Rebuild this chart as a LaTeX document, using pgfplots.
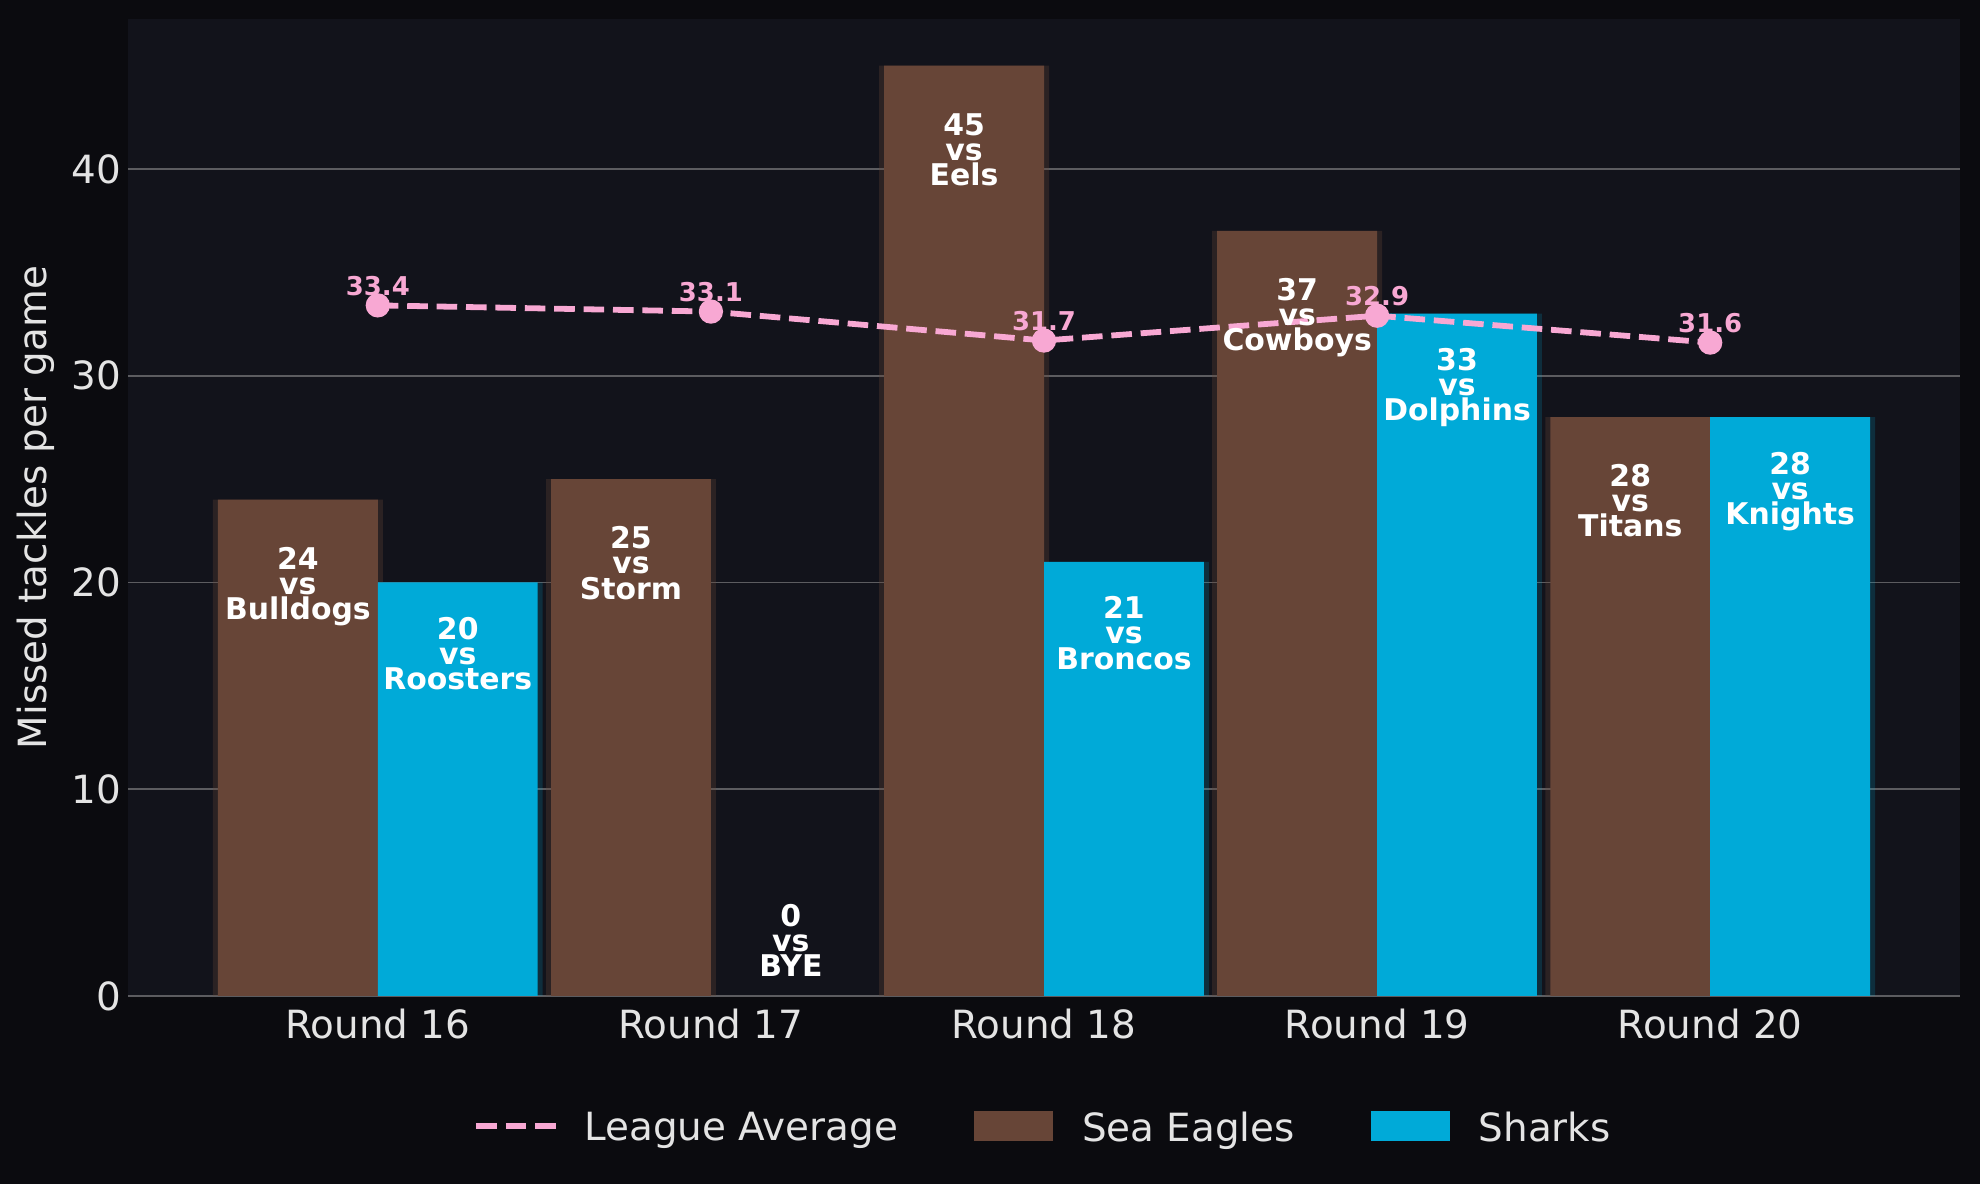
\documentclass[border=0pt]{standalone}
\usepackage{fontspec}
\setmainfont{DejaVu Sans}
\usepackage{pgfplots}
\pgfplotsset{compat=1.18}
\definecolor{figbg}{HTML}{0B0B0F}
\definecolor{axbg}{HTML}{12131B}
\definecolor{gridc}{HTML}{5C5C60}
\definecolor{brownc}{HTML}{674537}
\definecolor{cyanc}{HTML}{00AAD8}
\definecolor{pinkc}{HTML}{F8A8D3}
\definecolor{tickc}{HTML}{E4E4E4}
\tikzset{barlbl/.style={font=\bfseries\fontsize{15}{12.6}\selectfont, text=white, align=center, inner sep=0pt, text depth=0pt, anchor=center}}
\pgfplotsset{
  pinkleg/.style={legend image code/.code={\draw[pinkc, line width=2.9bp, dash pattern=on 10.3bp off 4.4bp] (0bp,1bp) -- (39.7bp,1bp); \path[draw=none,fill=none] (0,0) -- (52bp,0);}},
  brownleg/.style={legend image code/.code={\fill[brownc, draw=none] (0bp,-6.5bp) rectangle (39.5bp,8.5bp); \path[draw=none,fill=none] (0,0) -- (52bp,0);}},
  cyanleg/.style={legend image code/.code={\fill[cyanc, draw=none] (0bp,-6.5bp) rectangle (39.5bp,8.5bp); \path[draw=none,fill=none] (0,0) -- (52bp,0);}},
}
\pgfplotstableread{
x sea sharks avg
0 24 20 33.4
1 25 0 33.1
2 45 21 31.7
3 37 33 32.9
4 28 28 31.6
}\datatable
\begin{document}
\begin{tikzpicture}
\fill[figbg] (0,0) rectangle (990bp,592bp);
\begin{axis}[
  at={(64bp,94bp)}, anchor=south west,
  width=916bp, height=488.5bp, scale only axis,
  xmin=-0.75, xmax=4.75, ymin=0, ymax=47.25,
  axis background/.style={fill=axbg},
  axis line style={draw=none},
  xtick={0,1,2,3,4},
  xticklabels={Round 16,Round 17,Round 18,Round 19,Round 20},
  ytick={0,10,20,30,40},
  major tick length=0pt,
  ymajorgrids, grid style={gridc, line width=0.9bp},
  tick label style={font=\fontsize{19.5}{22}\selectfont, text=tickc},
  xticklabel style={yshift=-3bp},
  /pgf/number format/assume math mode=true,
  ylabel={Missed tackles per game},
  every axis y label/.style={at={(axis description cs:0,0.5)}, xshift=-46bp, rotate=90, anchor=center, font=\fontsize{19.5}{22}\selectfont, text=tickc},
  legend columns=3,
  legend style={at={(0.5,-0.135)}, anchor=center, draw=none, fill=none, text=tickc,
    font=\fontsize{19.5}{22}\selectfont,
    /tikz/every even column/.append style={column sep=36bp}},
]
\addlegendimage{pinkleg}
\addlegendentry{League Average}
\addlegendimage{brownleg}
\addlegendentry{Sea Eagles}
\addlegendimage{cyanleg}
\addlegendentry{Sharks}
% shadows
\addplot[forget plot, ybar, bar width=0.51, bar shift=-0.24, fill=brownc, draw=none, fill opacity=0.3] table[x=x,y=sea] {\datatable};
\addplot[forget plot, ybar, bar width=0.51, bar shift=0.24, fill=cyanc, draw=none, fill opacity=0.18] table[x=x,y=sharks] {\datatable};
% bars
\addplot[forget plot, ybar, bar width=0.48, bar shift=-0.24, fill=brownc, draw=none] table[x=x,y=sea] {\datatable};
\addplot[forget plot, ybar, bar width=0.48, bar shift=0.24, fill=cyanc, draw=none] table[x=x,y=sharks] {\datatable};
% league average
\addplot[forget plot, pinkc, line width=2.9bp, dash pattern=on 10.3bp off 4.4bp,
  mark=*, mark size=4.6bp, mark options={solid, fill=pinkc, draw=none},
  nodes near coords, point meta=explicit,
  every node near coord/.append style={anchor=south, inner sep=0pt, yshift=3.5bp, text=pinkc, font=\bfseries\fontsize{13}{15}\selectfont},
  /pgf/number format/.cd, fixed, fixed zerofill, precision=1, assume math mode=true]
  table[x=x,y=avg,meta=avg] {\datatable};
% bar labels
\node[barlbl] at (axis cs:-0.24,19.95) {24\\vs\\Bulldogs};
\node[barlbl] at (axis cs:0.24,16.56) {20\\vs\\Roosters};
\node[barlbl] at (axis cs:0.76,20.95) {25\\vs\\Storm};
\node[barlbl] at (axis cs:1.24,2.69) {0\\vs\\BYE};
\node[barlbl] at (axis cs:1.76,40.95) {45\\vs\\Eels};
\node[barlbl] at (axis cs:2.24,17.56) {21\\vs\\Broncos};
\node[barlbl] at (axis cs:2.76,32.95) {37\\vs\\Cowboys};
\node[barlbl] at (axis cs:3.24,29.56) {33\\vs\\Dolphins};
\node[barlbl] at (axis cs:3.76,23.95) {28\\vs\\Titans};
\node[barlbl] at (axis cs:4.24,24.56) {28\\vs\\Knights};
\end{axis}
\end{tikzpicture}
\end{document}
